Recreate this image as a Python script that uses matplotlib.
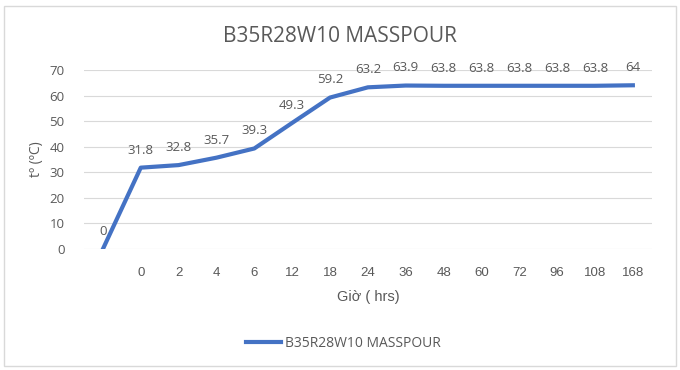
import matplotlib
matplotlib.use("Agg")
import matplotlib.pyplot as plt
from matplotlib.patches import Rectangle

# Data
hours = ["", "0", "2", "4", "6", "12", "18", "24", "36", "48", "60", "72", "96", "108", "168"]
temps = [0, 31.8, 32.8, 35.7, 39.3, 49.3, 59.2, 63.2, 63.9, 63.8, 63.8, 63.8, 63.8, 63.8, 64]
value_labels = ["0", "31.8", "32.8", "35.7", "39.3", "49.3", "59.2", "63.2", "63.9",
                "63.8", "63.8", "63.8", "63.8", "63.8", "64"]
y_ticks = [0, 10, 20, 30, 40, 50, 60, 70]

series_name = "B35R28W10 MASSPOUR"
line_color = "#4472C4"
text_grey = "#595959"

plt.rcParams["font.family"] = ["Open Sans", "DejaVu Sans"]

fig = plt.figure(figsize=(6.8, 3.7), dpi=100)
fig.patches.append(Rectangle((0.006, 0.01), 0.988, 0.975, transform=fig.transFigure,
                             fill=False, edgecolor="#d9d9d9", linewidth=1))

ax = fig.add_axes([0.1235, 0.327, 0.835, 0.484])
x = list(range(len(hours)))
ax.plot(x, temps, color=line_color, linewidth=3, solid_joinstyle="round",
        label=series_name)

for xi, yi, lab in zip(x, temps, value_labels):
    ax.annotate(lab, (xi, yi), xytext=(0, 8), textcoords="offset points",
                ha="center", va="bottom", fontsize=9.5, color=text_grey)

ax.set_xlim(-0.5, len(hours) - 0.5)
ax.set_ylim(0, 70)
ax.set_yticks(y_ticks)
ax.set_xticks(x)
ax.set_xticklabels(hours, fontfamily="Liberation Sans", fontsize=9.5, color=text_grey)
ax.tick_params(axis="y", labelsize=9.5, labelcolor=text_grey, length=0, pad=14)
ax.tick_params(axis="x", length=0, pad=13)
ax.grid(axis="y", color="#d9d9d9", linewidth=0.8)
ax.set_axisbelow(True)
for s in ax.spines.values():
    s.set_visible(False)

ax.set_ylabel("tº (ºC)", fontsize=10, color=text_grey, labelpad=4)
ax.set_xlabel("Giờ ( hrs)", fontfamily="Liberation Sans", fontsize=10.5, color=text_grey,
              labelpad=8)

fig.text(0.5, 0.9, series_name, ha="center", va="center", fontsize=15, color=text_grey)

fig.legend(loc="center", bbox_to_anchor=(0.505, 0.072), frameon=False, fontsize=10,
           handlelength=2.5, handletextpad=0.25, labelcolor=text_grey)

fig.savefig("out.png", dpi=100)
